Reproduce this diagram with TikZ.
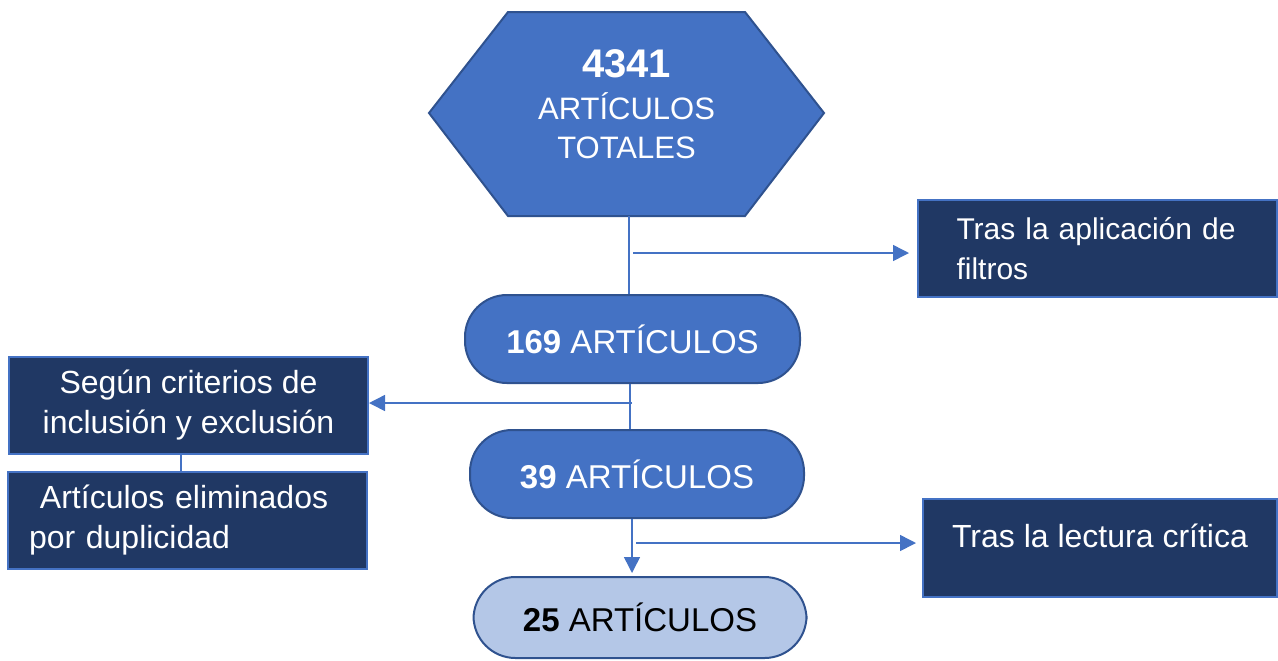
\documentclass[tikz,border=0pt]{standalone}
\usepackage{fontspec}
\setmainfont{Liberation Sans}
\usetikzlibrary{arrows.meta,calc}
\definecolor{azul}{HTML}{4472C4}
\definecolor{azulborde}{HTML}{2F528F}
\definecolor{marino}{HTML}{203864}
\definecolor{celeste}{HTML}{B4C7E7}
\tikzset{
  pildora/.style={draw=azulborde, line width=1pt, fill=azul, text=white, rounded corners=21pt,
    minimum height=44pt, inner sep=0pt, font=\fontsize{16.5}{19}\selectfont},
  caja/.style={draw=azul, line width=1pt, fill=marino, text=white, minimum width=179.5pt,
    minimum height=48.5pt, inner sep=0pt, font=\fontsize{16}{20}\selectfont},
  flecha/.style={azul, line width=0.75pt, -{Triangle[length=8pt,width=8pt]}},
  linea/.style={azul, line width=0.75pt},
}
\begin{document}
\begin{tikzpicture}[x=0.5pt,y=-0.5pt]
                \useasboundingbox (0,0) rectangle (1278,660);
                \draw[draw=azulborde, line width=1pt, fill=azul]
                    (429,113) -- (508,12) -- (745,12) -- (824,113) -- (745,216) -- (508,216) -- cycle;
                \node[align=center, text=white, inner sep=0pt, font=\fontsize{15.5}{19.5}\selectfont]
                    (total) at (626.5,104.5) {{\fontsize{20}{24}\selectfont\bfseries 4341}\\[1.5pt] ARTÍCULOS\\TOTALES};

                \node[pildora, minimum width=167.5pt] (n169) at (632.5,339) {\textbf{169} ARTÍCULOS};
                \node[pildora, minimum width=167pt] (n39) at (637,474) {\textbf{39} ARTÍCULOS};
                \node[pildora, minimum width=166.5pt, minimum height=40.5pt, fill=celeste, text=black]
                    (n25) at (640,617.5) {\textbf{25} ARTÍCULOS};

                \node[caja, text width=141pt, align=left, font=\fontsize{15}{20}\selectfont]
                    (filtros) at (1097.5,248.5) {Tras la aplicación de\\filtros};
                \node[caja, align=center] (segun) at (188.5,405) {Según criterios de\\inclusión y exclusión};
                \node[caja, text width=158pt, align=left] (duplic) at (187,520) {\hspace*{5.5pt}Artículos eliminados\\por duplicidad};
                \node[caja, minimum width=177pt, minimum height=49pt, align=center] (lectura) at (1100,548) {Tras la lectura crítica\\[-8pt]\mbox{}};

                % conectores
                \coordinate (h) at (629,216);
                \coordinate (a1) at (633,253);
                \coordinate (e) at (630,0);
                \coordinate (a2) at (632,403);
                \coordinate (d) at (181,0);
                \coordinate (b) at (632,0);
                \coordinate (a3) at (636,543);
                \draw[linea] (h) -- (h |- n169.north);
                \draw[flecha, shorten >=4pt] (a1) -- (a1 -| filtros.west);
                \draw[linea] (n169.south -| e) -- (n39.north -| e);
                \draw[flecha] (a2) -- (a2 -| segun.east);
                \draw[linea] (segun.south -| d) -- (duplic.north -| d);
                \draw[flecha, shorten >=1.5pt] (n39.south -| b) -- (n25.north -| b);
                \draw[flecha, shorten >=3pt] (a3) -- (a3 -| lectura.west);
            \end{tikzpicture}
\end{document}
